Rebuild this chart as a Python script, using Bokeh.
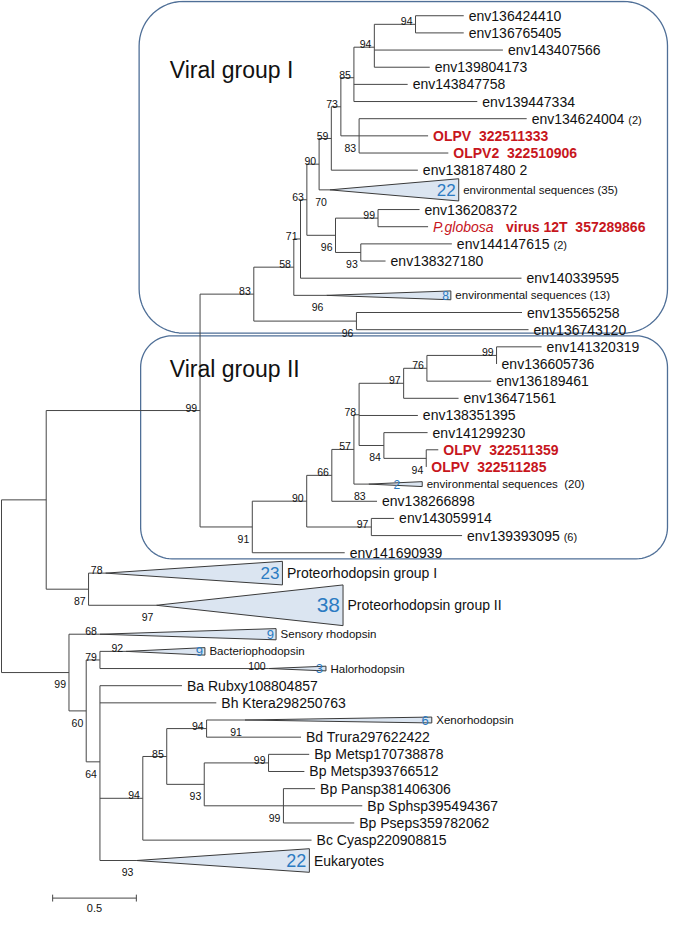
import numpy as np
from bokeh.plotting import figure
from bokeh.models import ColumnDataSource, Range1d
from bokeh.core.properties import value
from bokeh.embed import file_html
from bokeh.resources import INLINE

# ------------------------------------------------------------------ data
# internal nodes: id, parent, distance from root (substitutions/site), bootstrap
NODE_ID = ["R", "A", "V", "G1", "N58", "N71", "N63", "N90", "N59", "N73", "N85", "N94L", "N94U",
           "N83a", "N96a", "N99a", "N93", "N96b",
           "N91", "N90b", "N66", "N57", "N78", "N97", "N76", "N99b", "N84", "N94c", "N97b", "N87",
           "B", "N60", "N79", "N64", "N94x", "N85b", "N94y", "N93x", "N99x", "N99y"]
NODE_PARENT = [None, "R", "A", "V", "G1", "N58", "N71", "N63", "N90", "N59", "N73", "N85", "N94L",
               "N73", "N63", "N96a", "N96a", "G1",
               "V", "N91", "N90b", "N66", "N57", "N78", "N97", "N76", "N78", "N84", "N90b", "A",
               "R", "B", "N60", "N60", "N64", "N94x", "N85b", "N85b", "N93x", "N93x"]
NODE_DEPTH = [0.000, 0.267, 1.186, 1.507, 1.746, 1.786, 1.824, 1.897, 1.970, 2.027, 2.105, 2.227, 2.473,
              2.136, 1.995, 2.249, 2.146, 2.120,
              1.498, 1.823, 1.973, 2.105, 2.136, 2.402, 2.541, 2.957, 2.284, 2.537, 2.209, 0.520,
              0.403, 0.506, 0.588, 0.588, 0.844, 0.987, 1.225, 1.211, 1.595, 1.684]
NODE_SUPPORT = ["", "", "99", "83", "58", "71", "63", "90", "59", "73", "85", "94", "94",
                "83", "96", "99", "93", "96",
                "91", "90", "66", "57", "78", "97", "76", "99", "84", "94", "97", "87",
                "99", "60", "79", "64", "94", "85", "94", "93", "99", "99"]

# leaves: name, parent node, tip distance from root, note
LEAF_NAME = ["env136424410", "env136765405", "env143407566", "env139804173", "env143847758", "env139447334",
             "env134624004", "OLPV  322511333", "OLPV2  322510906", "env138187480 2",
             "env136208372", "P.globosa  virus 12T  357289866", "env144147615", "env138327180", "env140339595",
             "env135565258", "env136743120",
             "env141320319", "env136605736", "env136189461", "env136471561", "env138351395", "env141299230",
             "OLPV  322511359", "OLPV  322511285", "env138266898", "env143059914", "env139393095", "env141690939",
             "Ba Rubxy108804857", "Bh Ktera298250763", "Bd Trura297622422", "Bp Metsp170738878",
             "Bp Metsp393766512", "Bp Pansp381406306", "Bp Sphsp395494367", "Bp Pseps359782062",
             "Bc Cyasp220908815"]
LEAF_PARENT = ["N94U", "N94U", "N94L", "N94L", "N85", "N85",
               "N83a", "N83a", "N83a", "N59",
               "N99a", "N99a", "N93", "N93", "N71",
               "N96b", "N96b",
               "N99b", "N99b", "N76", "N97", "N78", "N84",
               "N94c", "N94c", "N66", "N97b", "N97b", "N91",
               "N64", "N64", "N94y", "N99x", "N99x", "N99y", "N99y", "N99y", "N94x"]
LEAF_DEPTH = [2.761, 2.761, 2.995, 2.558, 2.426, 2.842,
              3.137, 2.548, 2.669, 2.487,
              2.497, 2.548, 2.690, 2.294, 3.106,
              3.109, 3.148,
              3.226, 2.957, 2.925, 2.730, 2.487, 2.545,
              2.609, 2.537, 2.243, 2.345, 2.751, 2.050,
              1.078, 1.283, 1.789, 1.838, 1.809, 1.873, 2.155, 2.107, 1.852]
LEAF_NOTE = ["", "", "", "", "", "",
             "(2)", "", "", "",
             "", "", "(2)", "", "",
             "", "",
             "", "", "", "", "", "",
             "", "", "", "", "(6)", "",
             "", "", "", "", "", "", "", "", ""]

# collapsed clades: name, parent, apex distance, farthest distance, shown count, bootstrap
CLADE_NAME = ["environmental sequences (35)", "environmental sequences (13)", "environmental sequences  (20)",
              "Proteorhodopsin group I", "Proteorhodopsin group II", "Sensory rhodopsin",
              "Bacteriophodopsin", "Halorhodopsin", "Xenorhodopsin", "Eukaryotes"]
CLADE_PARENT = ["N90", "N58", "N57", "N87", "N87", "B", "N79", "N79", "N94y", "N64"]
CLADE_APEX = [1.961, 1.941, 2.193, 0.621, 0.925, 0.588, 0.744, 1.596, 1.454, 0.806]
CLADE_END = [2.731, 2.684, 2.513, 1.678, 2.040, 1.640, 1.215, 1.938, 2.570, 1.839]
CLADE_COUNT = ["22", "8", "2", "23", "38", "9", "9", "3", "6", "22"]
CLADE_SUPPORT = ["70", "96", "83", "78", "97", "68", "92", "100", "91", "93"]

# display order of tips (top to bottom)
TIP_ORDER = ["env136424410", "env136765405", "env143407566", "env139804173", "env143847758", "env139447334",
             "env134624004", "OLPV  322511333", "OLPV2  322510906", "env138187480 2",
             "environmental sequences (35)",
             "env136208372", "P.globosa  virus 12T  357289866", "env144147615", "env138327180", "env140339595",
             "environmental sequences (13)",
             "env135565258", "env136743120",
             "env141320319", "env136605736", "env136189461", "env136471561", "env138351395", "env141299230",
             "OLPV  322511359", "OLPV  322511285",
             "environmental sequences  (20)",
             "env138266898", "env143059914", "env139393095", "env141690939",
             "Proteorhodopsin group I", "Proteorhodopsin group II", "Sensory rhodopsin", "Bacteriophodopsin",
             "Halorhodopsin", "Ba Rubxy108804857", "Bh Ktera298250763", "Xenorhodopsin", "Bd Trura297622422",
             "Bp Metsp170738878", "Bp Metsp393766512", "Bp Pansp381406306", "Bp Sphsp395494367",
             "Bp Pseps359782062", "Bc Cyasp220908815", "Eukaryotes"]

GROUP_TITLES = ["Viral group I", "Viral group II"]
SCALE_LEN = 0.5

# ------------------------------------------------------------------ style / layout
FONT = "Liberation Sans"
TREE_COLOR = "#464646"
RED = "#c7161d"
BLUE = "#2b7bc2"
FILL = "#dbe5f1"
BOX_COLOR = "#4f6f97"
PX_PER_UNIT = 171.2          # image px per substitution/site (layout only)
STEP = 17.45                 # row step
TOP_ROW = 16.0
NODE_SIDE = ["", "", "a", "a", "a", "a", "a", "a", "a", "a", "a", "a", "a",
             "b", "b", "a", "b", "b",
             "b", "a", "a", "a", "a", "a", "a", "a", "b", "b", "a", "b",
             "b", "b", "a", "b", "a", "a", "a", "b", "a", "b"]
CLADE_SIDE = ["b", "b", "b", "a", "b", "a", "a", "a", "b", "b"]
CLADE_HALF = [11.3, 4.5, 2.5, 12.0, 20.7, 5.7, 3.8, 2.4, 3.0, 12.0]
CLADE_COUNT_PX = ["17px", "12px", "12px", "17px", "21px", "13px", "13px", "13px", "13px", "18px"]
CLADE_COUNT_DX = [-3, -2, -22, -3, -3, -2, -2, -3, -3, -3]
CLADE_NAME_PX = ["11.5px", "11.5px", "11.5px", "14px", "14px", "11.5px", "11.5px", "11.5px", "11.5px", "14px"]
BOXES = [(0.822, 1.5, 3.978, 338.8, 45.0), (0.831, 341.5, 3.978, 568.3, 32.0)]
TITLE_POS = [(1.005, 71.5), (1.005, 375.0)]
SCALE_POS = (0.3055, 913.3)

p = figure(width=669, height=915, x_range=Range1d(-0.006, 3.990), y_range=Range1d(931.0, 0.5),
           output_backend="svg", toolbar_location=None, min_border=0,
           x_axis_type=None, y_axis_type=None, outline_line_color=None,
           background_fill_color="white", border_fill_color="white")

# ------------------------------------------------------------------ layout of tree
leaf_idx = {n: i for i, n in enumerate(LEAF_NAME)}
clade_idx = {n: i for i, n in enumerate(CLADE_NAME)}
depth = dict(zip(NODE_ID, NODE_DEPTH))
children = {n: [] for n in NODE_ID}
for n, par in zip(NODE_ID, NODE_PARENT):
    if par is not None:
        children[par].append(n)
for n, par in zip(LEAF_NAME, LEAF_PARENT):
    children[par].append(n)
for n, par in zip(CLADE_NAME, CLADE_PARENT):
    children[par].append(n)

ypos = {}
yy, prev = TOP_ROW, None
for t in TIP_ORDER:
    h = max(CLADE_HALF[clade_idx[t]], STEP / 2) if t in clade_idx else STEP / 2
    if prev is not None:
        yy += prev + h
    ypos[t] = yy
    prev = h


def node_y(n):
    if n not in ypos:
        ypos[n] = float(np.mean([node_y(c) for c in children[n]]))
    return ypos[n]


node_y("R")


def start_depth(n):
    if n in depth:
        return depth[n]
    if n in leaf_idx:
        return LEAF_DEPTH[leaf_idx[n]]
    return CLADE_APEX[clade_idx[n]]


x0, y0, x1, y1 = [], [], [], []
for n in NODE_ID:
    for c in children[n]:
        x0.append(depth[n]); x1.append(start_depth(c)); y0.append(ypos[c]); y1.append(ypos[c])
    cy = [ypos[c] for c in children[n]]
    x0.append(depth[n]); x1.append(depth[n]); y0.append(min(cy)); y1.append(max(cy))

# rounded group boxes
for (l, t, r, b, rad) in BOXES:
    rx, ry = rad / PX_PER_UNIT, rad
    bx, by = [], []
    for cx, cy, a0 in [(l + rx, t + ry, 180), (r - rx, t + ry, 270), (r - rx, b - ry, 0), (l + rx, b - ry, 90)]:
        th = np.radians(np.linspace(a0, a0 + 90, 18))
        bx += list(cx + rx * np.cos(th)); by += list(cy + ry * np.sin(th))
    bx.append(bx[0]); by.append(by[0])
    p.line(bx, by, line_color=BOX_COLOR, line_width=1.3)

p.segment(x0="x0", y0="y0", x1="x1", y1="y1",
          source=ColumnDataSource(dict(x0=x0, y0=y0, x1=x1, y1=y1)),
          line_color=TREE_COLOR, line_width=1.0)

# collapsed clade triangles
txs, tys = [], []
for i, n in enumerate(CLADE_NAME):
    yc, h = ypos[n], CLADE_HALF[i]
    txs.append([CLADE_APEX[i], CLADE_END[i], CLADE_END[i]])
    tys.append([yc, yc - h, yc + h])
p.patches(xs="xs", ys="ys", source=ColumnDataSource(dict(xs=txs, ys=tys)),
          fill_color=FILL, line_color="#3a3a3a", line_width=1.0)


def add_text(xs, ys, texts, size, color="#111111", style="normal", align="left",
             baseline="middle", dx=0, dy=0):
    data = dict(x=list(xs), y=list(ys), text=list(texts))
    kw = {}
    if isinstance(size, list):
        data["size"] = size; kw["text_font_size"] = "size"
    else:
        kw["text_font_size"] = size
    if isinstance(dx, list):
        data["dx"] = dx; kw["x_offset"] = "dx"
    else:
        kw["x_offset"] = dx
    p.text(x="x", y="y", text="text", source=ColumnDataSource(data), text_font=value(FONT),
           text_color=color, text_font_style=style, text_align=align, text_baseline=baseline,
           y_offset=dy, **kw)


def show(s):
    return s.replace("  ", "\u00a0 ")


def width_em(s):
    return sum(0.5 if ch == "v" else 0.556 for ch in s)


# leaf labels
plain, red, glob, notes = ([], [], []), ([], [], []), ([], [], []), ([], [], [], [])
for i, n in enumerate(LEAF_NAME):
    xd, yv = LEAF_DEPTH[i], ypos[n]
    if n.startswith("P.globosa"):
        first, rest = n.split("  ", 1)
        glob[0].append(xd); glob[1].append(yv); glob[2].append((first, show(rest)))
    elif n.startswith("OLPV"):
        red[0].append(xd); red[1].append(yv); red[2].append(show(n))
    else:
        plain[0].append(xd); plain[1].append(yv); plain[2].append(show(n))
    if LEAF_NOTE[i]:
        notes[0].append(xd); notes[1].append(yv + 1); notes[2].append(LEAF_NOTE[i])
        notes[3].append(5 + width_em(n) * 14 + 4)

add_text(plain[0], plain[1], plain[2], "14px", dx=5)
add_text(red[0], red[1], red[2], "14px", color=RED, style="bold", dx=5)
add_text(glob[0], glob[1], [g[0] for g in glob[2]], "14px", color=RED, style="italic", dx=5)
add_text(glob[0], glob[1], [g[1] for g in glob[2]], "14px", color=RED, style="bold", dx=78)
add_text(notes[0], notes[1], notes[2], "11px", dx=notes[3])

# clade counts and names
add_text(CLADE_END, [ypos[n] for n in CLADE_NAME], CLADE_COUNT, CLADE_COUNT_PX, color=BLUE,
         align="right", dx=CLADE_COUNT_DX)
add_text(CLADE_END, [ypos[n] for n in CLADE_NAME], [show(n) for n in CLADE_NAME], CLADE_NAME_PX, dx=4.5)

# bootstrap values
above, below = ([], [], []), ([], [], [])
for i, n in enumerate(NODE_ID):
    if NODE_SUPPORT[i]:
        tgt = above if NODE_SIDE[i] == "a" else below
        tgt[0].append(depth[n]); tgt[1].append(ypos[n]); tgt[2].append(NODE_SUPPORT[i])
for i, n in enumerate(CLADE_NAME):
    tgt = above if CLADE_SIDE[i] == "a" else below
    tgt[0].append(CLADE_APEX[i]); tgt[1].append(ypos[n]); tgt[2].append(CLADE_SUPPORT[i])
add_text(above[0], [v - 3.0 for v in above[1]], above[2], "10.5px", align="right",
         baseline="alphabetic", dx=-3)
add_text(below[0], [v + 12.0 for v in below[1]], below[2], "10.5px", align="right",
         baseline="alphabetic", dx=-3)

# group titles
add_text([t[0] for t in TITLE_POS], [t[1] for t in TITLE_POS], GROUP_TITLES, "23px",
         baseline="alphabetic")

# scale bar
sx, sy = SCALE_POS
p.segment(x0=[sx, sx, sx + SCALE_LEN], y0=[sy, sy - 3.5, sy - 3.5],
          x1=[sx + SCALE_LEN, sx, sx + SCALE_LEN], y1=[sy, sy + 3.5, sy + 3.5],
          line_color=TREE_COLOR, line_width=1.0)
add_text([sx + SCALE_LEN / 2], [sy + 10.0], [str(SCALE_LEN)], "11px", align="center")

open("out.html", "w").write(file_html(p, INLINE))
